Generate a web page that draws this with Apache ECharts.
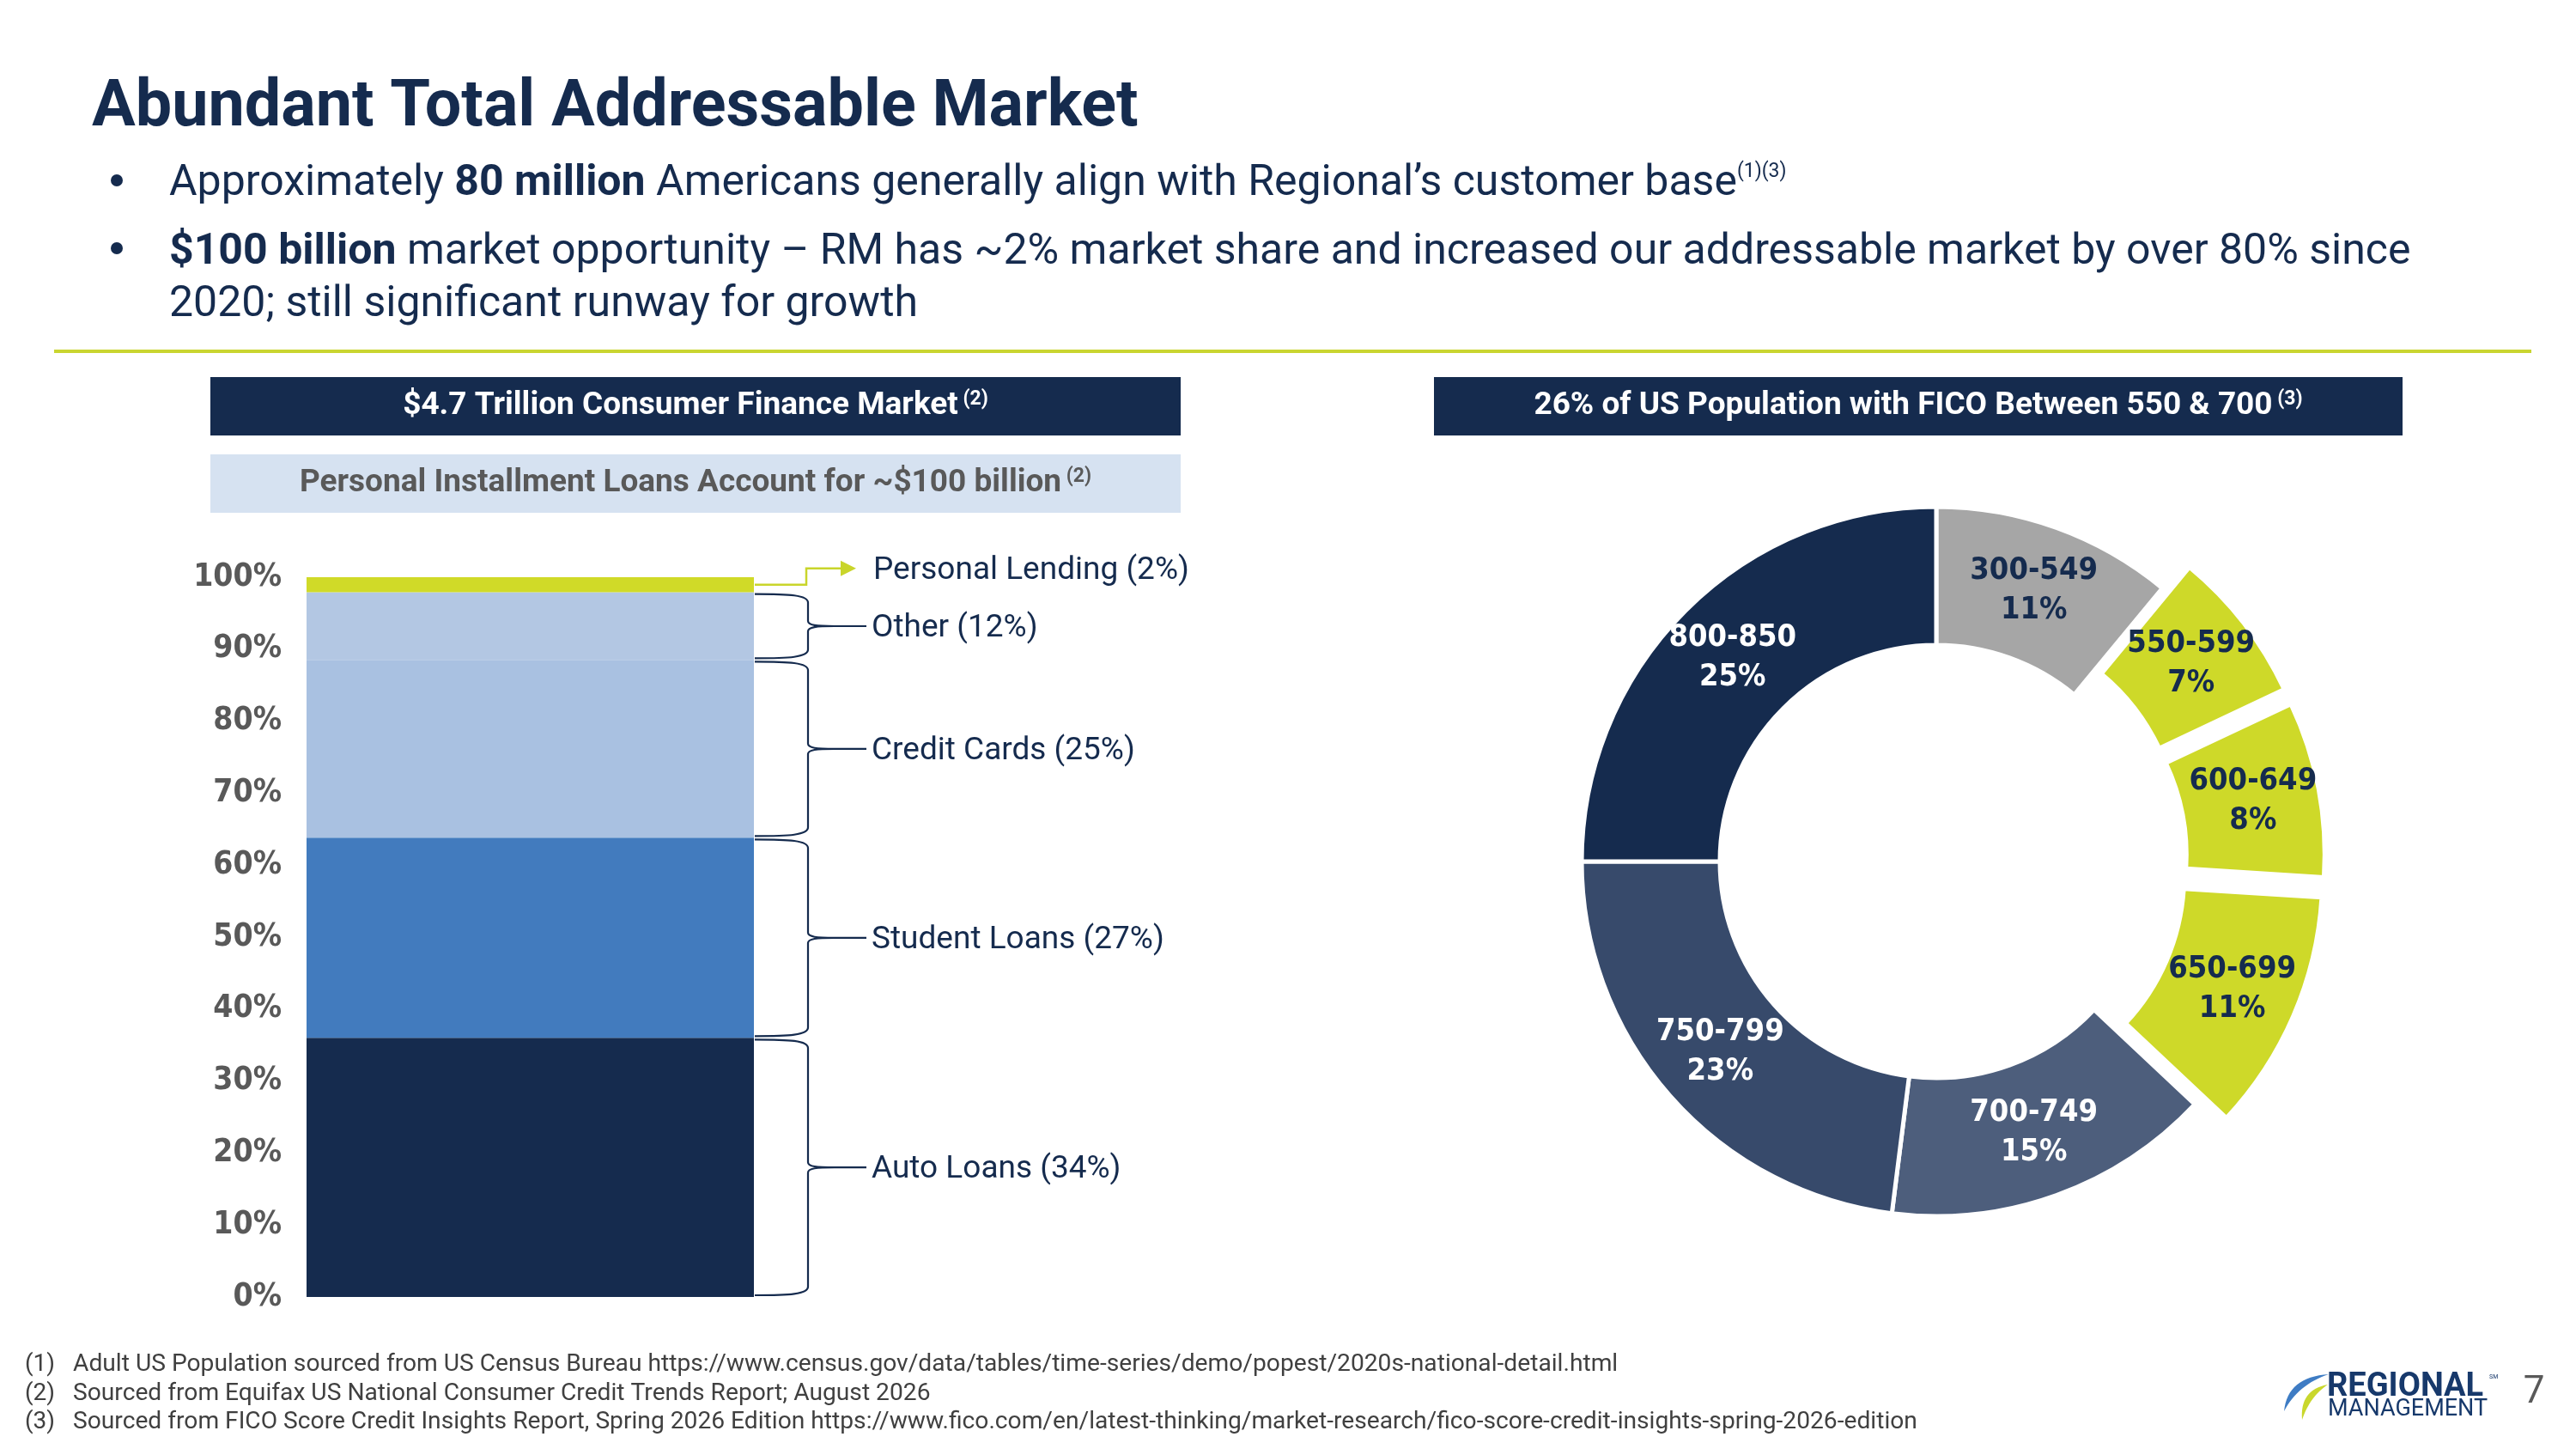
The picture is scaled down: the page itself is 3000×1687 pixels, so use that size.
<!DOCTYPE html>
<html>
<head>
<meta charset="utf-8">
<title>Abundant Total Addressable Market</title>
<script src="https://cdn.jsdelivr.net/npm/echarts@6.0.0/dist/echarts.min.js"></script>
<style>
  html, body { margin: 0; padding: 0; background: #fff; }
  #main { width: 3000px; height: 1687px; }
</style>
</head>
<body>
<div id="main"></div>
<script>
// ---- data ----
const segNames = ["Auto Loans", "Student Loans", "Credit Cards", "Other", "Personal Lending"];
const segStatedPct = [34, 27, 25, 12, 2];          // percentages written in the labels
const segShare = [36.0, 27.8, 24.7, 9.4, 2.1];     // bar heights as drawn
const ficoBands = ["300-549", "550-599", "600-649", "650-699", "700-749", "750-799", "800-850"];
const ficoPct = [11, 7, 8, 11, 15, 23, 25];
const ficoTarget = [false, true, true, true, false, false, false]; // 550-700 band

const headerTexts = [
  ["$4.7 Trillion Consumer Finance Market", "2"],
  ["Personal Installment Loans Account for ~$100 billion", "2"],
  ["26% of US Population with FICO Between 550 & 700", "3"],
];
const footnotes = [
  "Adult US Population sourced from US Census Bureau https://www.census.gov/data/tables/time-series/demo/popest/2020s-national-detail.html",
  "Sourced from Equifax US National Consumer Credit Trends Report; August 2026",
  "Sourced from FICO Score Credit Insights Report, Spring 2026 Edition https://www.fico.com/en/latest-thinking/market-research/fico-score-credit-insights-spring-2026-edition",
];

// ---- styles ----
const NAVY = "#152B4E";
const GREEN = "#CED929";
const GREY_TXT = "#595959";
const segColors = [NAVY, "#427BBE", "#A9C1E1", "#B3C7E3", "#D0DA28"];
const ficoColors = ["#A6A6A6", GREEN, GREEN, GREEN, "#4D5E7C", "#374A6B", NAVY];
const ficoLabelColors = [NAVY, NAVY, NAVY, NAVY, "#fff", "#fff", "#fff"];
const ROBOTO = "Roboto, 'Noto Sans', sans-serif";
const CONDENSED = "'DejaVu Sans Condensed', 'DejaVu Sans', sans-serif";

var chart = echarts.init(document.getElementById("main"));

// stacked bar series
var cum = 0;
var braceData = [];
var barSeries = segNames.map(function (name, i) {
  braceData.push([0, cum, cum + segShare[i]]);
  cum += segShare[i];
  return {
    name: name,
    type: "bar",
    stack: "market",
    barWidth: "100%",
    itemStyle: { color: segColors[i] },
    emphasis: { disabled: true },
    data: [segShare[i]],
  };
});

function renderBrace(params, api) {
  var i = params.dataIndex;
  var bottom = api.coord([0, api.value(1)]);
  var top = api.coord([0, api.value(2)]);
  var bandW = api.size([1, 0])[0];
  var x0 = bottom[0] + bandW / 2 + 1;
  var label = segNames[i] + " (" + segStatedPct[i] + "%)";
  var font = { fill: NAVY, fontSize: 37, fontFamily: ROBOTO, align: "left", verticalAlign: "middle" };

  if (i === segNames.length - 1) {
    // small top slice gets an arrow instead of a brace
    var ym = (top[1] + bottom[1]) / 2;
    var ya = ym - 19;
    return {
      type: "group",
      children: [
        {
          type: "polyline",
          shape: { points: [[x0, ym], [x0 + 60, ym], [x0 + 60, ya], [x0 + 102, ya]] },
          style: { stroke: "#C9D52B", lineWidth: 2.5, fill: null },
        },
        {
          type: "polygon",
          shape: { points: [[x0 + 100, ya - 9], [x0 + 118, ya], [x0 + 100, ya + 9]] },
          style: { fill: "#C9D52B" },
        },
        { type: "text", style: Object.assign({ x: x0 + 138, y: ya + 3, text: label }, font) },
      ],
    };
  }

  var yT = top[1] + 2;
  var yB = bottom[1] - 2;
  var ym2 = (yT + yB) / 2;
  var x1 = x0 + 62;
  var xTip = x0 + 93;
  var xEnd = x0 + 130;
  var d =
    "M" + x0 + " " + yT +
    " C" + (x0 + 40) + " " + yT + " " + x1 + " " + (yT + 1) + " " + x1 + " " + (yT + 10) +
    " L" + x1 + " " + (ym2 - 6) +
    " C" + x1 + " " + (ym2 - 1) + " " + (x1 + 10) + " " + ym2 + " " + xTip + " " + ym2 +
    " C" + (x1 + 10) + " " + ym2 + " " + x1 + " " + (ym2 + 1) + " " + x1 + " " + (ym2 + 6) +
    " L" + x1 + " " + (yB - 10) +
    " C" + x1 + " " + (yB - 1) + " " + (x0 + 40) + " " + yB + " " + x0 + " " + yB +
    " M" + xTip + " " + ym2 + " L" + xEnd + " " + ym2;
  return {
    type: "group",
    children: [
      { type: "path", shape: { pathData: d }, style: { stroke: NAVY, lineWidth: 2.2, fill: null } },
      { type: "text", style: Object.assign({ x: xEnd + 6, y: ym2 + 3, text: label }, font) },
    ],
  };
}

// pie data
var pieData = ficoBands.map(function (band, i) {
  return {
    name: band,
    value: ficoPct[i],
    selected: ficoTarget[i],
    itemStyle: { color: ficoColors[i] },
    label: { color: ficoLabelColors[i] },
  };
});

function makeHeader(x, y, w, h, fill, idx, color) {
  return [
    { type: "rect", shape: { x: x, y: y, width: w, height: h }, style: { fill: fill } },
    {
      type: "text",
      x: x + w / 2,
      y: y + h / 2,
      style: {
        text: "{t|" + headerTexts[idx][0] + "}{s| (" + headerTexts[idx][1] + ")}",
        align: "center",
        verticalAlign: "middle",
        rich: {
          t: { fontSize: 37, fontWeight: "bold", fontFamily: ROBOTO, fill: color, color: color },
          s: { fontSize: 23, fontWeight: "bold", fontFamily: ROBOTO, fill: color, color: color, verticalAlign: "top", padding: [0, 0, 16, 0] },
        },
      },
    },
  ];
}

// crescent outline for the logo swoosh (sampled quadratic curves)
function crescent(p0, c1, p1, c2) {
  var pts = [];
  var n = 16;
  for (var k = 0; k <= n; k++) {
    var t = k / n;
    pts.push([
      (1 - t) * (1 - t) * p0[0] + 2 * t * (1 - t) * c1[0] + t * t * p1[0],
      (1 - t) * (1 - t) * p0[1] + 2 * t * (1 - t) * c1[1] + t * t * p1[1],
    ]);
  }
  for (var k2 = n; k2 >= 0; k2--) {
    var s = k2 / n;
    pts.push([
      (1 - s) * (1 - s) * p0[0] + 2 * s * (1 - s) * c2[0] + s * s * p1[0],
      (1 - s) * (1 - s) * p0[1] + 2 * s * (1 - s) * c2[1] + s * s * p1[1],
    ]);
  }
  return pts;
}

var graphics = [
  {
    type: "text", x: 107, y: 127,
    style: { text: "Abundant Total Addressable Market", fontSize: 75.5, fontWeight: "bold", fontFamily: ROBOTO, fill: NAVY, verticalAlign: "middle" },
  },
  { type: "circle", shape: { cx: 136, cy: 210, r: 7 }, style: { fill: NAVY } },
  {
    type: "text", x: 197, y: 214,
    style: {
      text: "Approximately {b|80 million} Americans generally align with Regional\u2019s customer base{s|(1)(3)}",
      fontSize: 50, fontFamily: ROBOTO, fill: NAVY, verticalAlign: "middle",
      rich: {
        b: { fontSize: 50, fontWeight: "bold", fontFamily: ROBOTO, fill: NAVY },
        s: { fontSize: 23, fontFamily: ROBOTO, fill: NAVY, verticalAlign: "top", padding: [0, 0, 20, 0] },
      },
    },
  },
  { type: "circle", shape: { cx: 136, cy: 289, r: 7 }, style: { fill: NAVY } },
  {
    type: "text", x: 197, y: 294,
    style: {
      text: "{b|$100 billion} market opportunity \u2013 RM has ~2% market share and increased our addressable market by over 80% since",
      fontSize: 50, fontFamily: ROBOTO, fill: NAVY, verticalAlign: "middle",
      rich: { b: { fontSize: 50, fontWeight: "bold", fontFamily: ROBOTO, fill: NAVY } },
    },
  },
  {
    type: "text", x: 197, y: 355,
    style: { text: "2020; still significant runway for growth", fontSize: 50, fontFamily: ROBOTO, fill: NAVY, verticalAlign: "middle" },
  },
  { type: "rect", shape: { x: 63, y: 407, width: 2885, height: 4 }, style: { fill: "#C9D530" } },
]
  .concat(makeHeader(245, 439, 1130, 68, NAVY, 0, "#fff"))
  .concat(makeHeader(245, 529, 1130, 68, "#D6E2F1", 1, GREY_TXT))
  .concat(makeHeader(1670, 439, 1128, 68, NAVY, 2, "#fff"));

footnotes.forEach(function (note, i) {
  var y = 1589 + i * 33.5;
  graphics.push({
    type: "text", x: 29, y: y,
    style: { text: "(" + (i + 1) + ")", fontSize: 28, fontFamily: ROBOTO, fill: "#404040", verticalAlign: "middle" },
  });
  graphics.push({
    type: "text", x: 85, y: y,
    style: { text: note, fontSize: 28.2, fontFamily: ROBOTO, fill: "#404040", verticalAlign: "middle" },
  });
});

// logo + page number
graphics.push(
  {
    type: "polygon",
    shape: { points: crescent([2712, 1600], [2664, 1603], [2660, 1643], [2676, 1612]) },
    style: { fill: "#3E7CC4" },
  },
  {
    type: "polygon",
    shape: { points: crescent([2711, 1612], [2678, 1618], [2681, 1653], [2690, 1626]) },
    style: { fill: "#C9D72C" },
  },
  {
    type: "text", x: 2710, y: 1615,
    style: { text: "REGIONAL", fontSize: 38, fontWeight: "bold", fontFamily: ROBOTO, fill: "#17396B", verticalAlign: "middle" },
  },
  {
    type: "text", x: 2899, y: 1603,
    style: { text: "SM", fontSize: 7, fontFamily: ROBOTO, fill: "#17396B", verticalAlign: "middle" },
  },
  {
    type: "text", x: 2711, y: 1641,
    style: { text: "MANAGEMENT", fontSize: 27, fontFamily: ROBOTO, fill: "#17396B", verticalAlign: "middle" },
  },
  {
    type: "text", x: 2951, y: 1622,
    style: { text: "7", fontSize: 44, fontFamily: ROBOTO, fill: GREY_TXT, align: "center", verticalAlign: "middle" },
  }
);

var option = {
  animation: false,
  grid: { left: 357, top: 672, width: 521, height: 838 },
  xAxis: { type: "category", data: ["Consumer Finance"], show: false },
  yAxis: {
    type: "value",
    min: 0,
    max: 100,
    interval: 10,
    axisLine: { show: false },
    axisTick: { show: false },
    splitLine: { show: false },
    axisLabel: {
      formatter: "{value}%",
      margin: 29,
      color: GREY_TXT,
      fontSize: 37,
      fontWeight: "bold",
      fontFamily: CONDENSED,
    },
  },
  series: barSeries.concat([
    {
      type: "custom",
      name: "labels",
      coordinateSystem: "cartesian2d",
      renderItem: renderBrace,
      clip: false,
      silent: true,
      z: 5,
      data: braceData,
    },
    {
      type: "pie",
      name: "FICO",
      center: [2255, 1003],
      radius: [252, 413],
      startAngle: 90,
      clockwise: true,
      selectedMode: "multiple",
      selectedOffset: 40,
      avoidLabelOverlap: false,
      itemStyle: { borderColor: "#fff", borderWidth: 5 },
      select: { itemStyle: { borderColor: "#fff", borderWidth: 5 } },
      emphasis: { disabled: true },
      label: {
        show: true,
        position: "inside",
        formatter: "{b}\n{c}%",
        fontFamily: CONDENSED,
        fontWeight: "bold",
        fontSize: 36,
        lineHeight: 46,
      },
      labelLine: { show: false },
      data: pieData,
    },
  ]),
  graphic: graphics,
};

chart.setOption(option);
</script>
</body>
</html>
